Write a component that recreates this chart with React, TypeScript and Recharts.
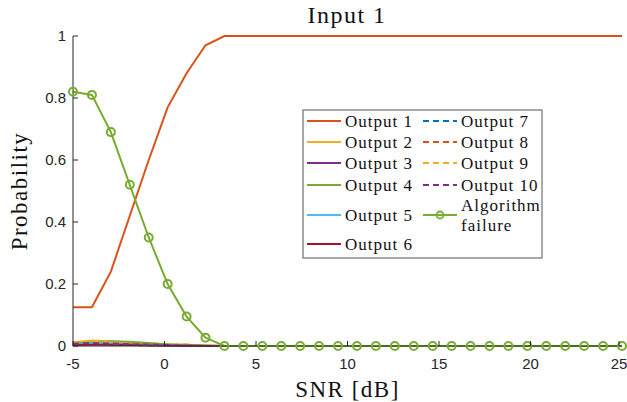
import { CartesianGrid, Line, LineChart, XAxis, YAxis } from "recharts";

const snr = [
  -5, -3.966, -2.931, -1.897, -0.862, 0.172, 1.207, 2.241, 3.276, 4.31, 5.345, 6.379, 7.414, 8.448, 9.483,
  10.517, 11.552, 12.586, 13.621, 14.655, 15.69, 16.724, 17.759, 18.793, 19.828, 20.862, 21.897, 22.931, 23.966, 25,
];

const output1 = [0.125, 0.125, 0.24, 0.42, 0.6, 0.77, 0.88, 0.97, 1, 1, 1, 1, 1, 1, 1, 1, 1, 1, 1, 1, 1, 1, 1, 1, 1, 1, 1, 1, 1, 1];
const output2 = [0.012, 0.018, 0.015, 0.01, 0.008, 0.005, 0.004, 0.002, 0, 0, 0, 0, 0, 0, 0, 0, 0, 0, 0, 0, 0, 0, 0, 0, 0, 0, 0, 0, 0, 0];
const output3 = [0.006, 0.008, 0.006, 0.005, 0.004, 0.003, 0.002, 0.001, 0, 0, 0, 0, 0, 0, 0, 0, 0, 0, 0, 0, 0, 0, 0, 0, 0, 0, 0, 0, 0, 0];
const output4 = [0.008, 0.012, 0.015, 0.014, 0.01, 0.006, 0.003, 0.001, 0, 0, 0, 0, 0, 0, 0, 0, 0, 0, 0, 0, 0, 0, 0, 0, 0, 0, 0, 0, 0, 0];
const output5 = [0.005, 0.01, 0.006, 0.004, 0.003, 0.002, 0.001, 0, 0, 0, 0, 0, 0, 0, 0, 0, 0, 0, 0, 0, 0, 0, 0, 0, 0, 0, 0, 0, 0, 0];
const output6 = [0.003, 0.004, 0.004, 0.003, 0.002, 0.002, 0.001, 0, 0, 0, 0, 0, 0, 0, 0, 0, 0, 0, 0, 0, 0, 0, 0, 0, 0, 0, 0, 0, 0, 0];
const output7 = [0.008, 0.012, 0.008, 0.005, 0.003, 0.002, 0.001, 0, 0, 0, 0, 0, 0, 0, 0, 0, 0, 0, 0, 0, 0, 0, 0, 0, 0, 0, 0, 0, 0, 0];
const output8 = [0.01, 0.014, 0.01, 0.006, 0.004, 0.002, 0.001, 0, 0, 0, 0, 0, 0, 0, 0, 0, 0, 0, 0, 0, 0, 0, 0, 0, 0, 0, 0, 0, 0, 0];
const output9 = [0.009, 0.016, 0.012, 0.008, 0.004, 0.003, 0.006, 0.001, 0, 0, 0, 0, 0, 0, 0, 0, 0, 0, 0, 0, 0, 0, 0, 0, 0, 0, 0, 0, 0, 0];
const output10 = [0.007, 0.01, 0.008, 0.006, 0.005, 0.003, 0.002, 0, 0, 0, 0, 0, 0, 0, 0, 0, 0, 0, 0, 0, 0, 0, 0, 0, 0, 0, 0, 0, 0, 0];
const failure = [0.82, 0.81, 0.69, 0.52, 0.35, 0.2, 0.095, 0.027, 0, 0, 0, 0, 0, 0, 0, 0, 0, 0, 0, 0, 0, 0, 0, 0, 0, 0, 0, 0, 0, 0];

const xTicks = [-5, 0, 5, 10, 15, 20, 25];
const yTicks = [0, 0.2, 0.4, 0.6, 0.8, 1];

const series = [
  { key: "o1", label: "Output 1", values: output1, color: "#D95319", dash: undefined },
  { key: "o2", label: "Output 2", values: output2, color: "#EDB120", dash: undefined },
  { key: "o3", label: "Output 3", values: output3, color: "#7E2F8E", dash: undefined },
  { key: "o4", label: "Output 4", values: output4, color: "#77AC30", dash: undefined },
  { key: "o5", label: "Output 5", values: output5, color: "#4DBEEE", dash: undefined },
  { key: "o6", label: "Output 6", values: output6, color: "#A2142F", dash: undefined },
  { key: "o7", label: "Output 7", values: output7, color: "#0072BD", dash: "6 4" },
  { key: "o8", label: "Output 8", values: output8, color: "#D95319", dash: "6 4" },
  { key: "o9", label: "Output 9", values: output9, color: "#EDB120", dash: "6 4" },
  { key: "o10", label: "Output 10", values: output10, color: "#7E2F8E", dash: "6 4" },
];

const data = snr.map((x, i) => {
  const row: Record<string, number> = { snr: x, fail: failure[i] };
  series.forEach((s) => (row[s.key] = s.values[i]));
  return row;
});

const AXIS = "#262626";
const SERIF = "'Liberation Serif', 'Times New Roman', serif";
const SANS = "'Liberation Sans', Arial, sans-serif";

const XTick = (props: any) => {
  const { x, y, payload } = props;
  return (
    <g>
      <line x1={x} x2={x} y1={y - 12} y2={y - 17} stroke={AXIS} />
      <text x={x} y={y} dy="0.71em" textAnchor="middle" fontSize={15} fontFamily={SANS} fill={AXIS}>
        {payload.value}
      </text>
    </g>
  );
};

const YTick = (props: any) => {
  const { x, y, payload } = props;
  return (
    <g>
      <line x1={x + 7} x2={x + 12} y1={y} y2={y} stroke={AXIS} />
      <text x={x} y={y} dy="0.36em" textAnchor="end" fontSize={15} fontFamily={SANS} fill={AXIS}>
        {payload.value}
      </text>
    </g>
  );
};

const legendText = { fontSize: 17, fontFamily: SERIF, fill: "#111", letterSpacing: 1 };

function LegendBox() {
  const rowsLeft = [12, 33, 54, 76, 106, 135];
  const rowsRight = [12, 33, 54, 76];
  return (
    <svg width={241} height={150} style={{ position: "absolute", left: 302, top: 109 }}>
      <rect x={1} y={1} width={239} height={148} fill="#fff" stroke="#555" />
      {series.slice(0, 6).map((s, i) => (
        <g key={s.key}>
          <line x1={5} x2={39} y1={rowsLeft[i]} y2={rowsLeft[i]} stroke={s.color} strokeWidth={2} />
          <text x={43} y={rowsLeft[i]} dy="0.33em" {...legendText}>
            {s.label}
          </text>
        </g>
      ))}
      {series.slice(6).map((s, i) => (
        <g key={s.key}>
          <line x1={121} x2={155} y1={rowsRight[i]} y2={rowsRight[i]} stroke={s.color} strokeWidth={2} strokeDasharray="6 4" />
          <text x={159} y={rowsRight[i]} dy="0.33em" {...legendText}>
            {s.label}
          </text>
        </g>
      ))}
      <line x1={121} x2={155} y1={106} y2={106} stroke="#77AC30" strokeWidth={2} />
      <circle cx={138} cy={106} r={3.5} fill="none" stroke="#77AC30" strokeWidth={1.8} />
      <text x={159} y={96} dy="0.33em" {...legendText}>
        Algorithm
      </text>
      <text x={159} y={116} dy="0.33em" {...legendText}>
        failure
      </text>
    </svg>
  );
}

export default function App() {
  return (
    <div style={{ position: "absolute", left: 0, top: 0, width: 627, height: 402, background: "#fff" }}>
      <LineChart width={627} height={402} data={data} margin={{ top: 36, right: 5, left: 0, bottom: 0 }}>
        <CartesianGrid stroke="none" />
        <XAxis
          dataKey="snr"
          type="number"
          domain={[-5, 25]}
          ticks={xTicks}
          tick={<XTick />}
          tickSize={0}
          tickMargin={12}
          height={56}
          stroke={AXIS}
          label={{ value: "SNR [dB]", position: "insideBottom", offset: 5, fontSize: 23, fontFamily: SERIF, fill: "#111", letterSpacing: 1.5 }}
        />
        <YAxis
          type="number"
          domain={[0, 1]}
          ticks={yTicks}
          tick={<YTick />}
          tickSize={0}
          tickMargin={7}
          width={73}
          stroke={AXIS}
          label={{ value: "Probability", angle: -90, position: "insideLeft", offset: 19, fontSize: 23, fontFamily: SERIF, fill: "#111", letterSpacing: 1.5, style: { textAnchor: "middle" } }}
        />
        {series.map((s) => (
          <Line
            key={s.key}
            dataKey={s.key}
            stroke={s.color}
            strokeWidth={2}
            strokeDasharray={s.dash}
            dot={false}
            activeDot={false}
            isAnimationActive={false}
          />
        ))}
        <Line
          dataKey="fail"
          stroke="#77AC30"
          strokeWidth={2}
          dot={{ r: 4, fill: "none", stroke: "#77AC30", strokeWidth: 2 }}
          activeDot={false}
          isAnimationActive={false}
        />
      </LineChart>
      <div
        style={{ position: "absolute", left: 0, top: 2, width: 694, textAlign: "center", fontFamily: SERIF, fontSize: 24, letterSpacing: 1.5, color: "#111" }}
      >
        Input 1
      </div>
      <LegendBox />
    </div>
  );
}
